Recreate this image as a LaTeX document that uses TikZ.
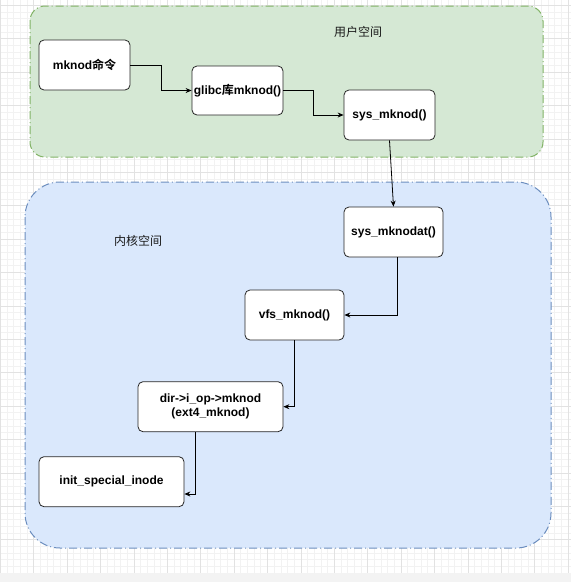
\documentclass[tikz,border=0pt]{standalone}
\usepackage{fontspec}
\setmainfont{Liberation Sans}
\newfontfamily\cjk{Noto Sans CJK SC}[BoldFont={Noto Sans CJK SC Bold}]
\usetikzlibrary{arrows.meta,calc}
\definecolor{gfill}{HTML}{D5E8D4}
\definecolor{gline}{HTML}{82B366}
\definecolor{bfill}{HTML}{DAE8FC}
\definecolor{bline}{HTML}{6C8EBF}
\definecolor{gridminor}{HTML}{F2F2F2}
\definecolor{gridmajor}{HTML}{E2E2E2}
\definecolor{strip}{HTML}{F3F3F3}
\begin{document}
\begin{tikzpicture}[x=1pt,y=-1pt,
  box/.style={draw=black!85, fill=white, rounded corners=5pt, line width=0.8pt,
    align=center, font=\bfseries\fontsize{12}{14}\selectfont, inner sep=0pt},
  arr/.style={-{Stealth[length=6pt,width=5pt]}, line width=0.8pt},
  region/.style={line width=1pt, dash pattern=on 8pt off 3pt on 1pt off 3pt},
  title/.style={font=\cjk\fontsize{12}{14}\selectfont, text=black!90}]
\useasboundingbox (0,0) rectangle (571,582);
\fill[white] (0,0) rectangle (571,582);
% canvas grid
\foreach \i in {0,...,86} {
  \draw[gridminor, line width=0.5pt] ({568-6.68*\i},0) -- ({568-6.68*\i},573);
  \draw[gridminor, line width=0.5pt] (0,{573-6.68*\i}) -- (571,{573-6.68*\i});
}
\foreach \i in {0,...,17} {
  \draw[gridmajor, line width=0.6pt] ({568-33.4*\i},0) -- ({568-33.4*\i},573);
  \draw[gridmajor, line width=0.6pt] (0,{573-33.4*\i}) -- (571,{573-33.4*\i});
}
\fill[strip] (0,573) rectangle (571,582);
% regions
\draw[region, fill=gfill, draw=gline, rounded corners=15pt] (30,6) rectangle (543,157);
\draw[region, fill=bfill, draw=bline, rounded corners=35pt] (25,182) rectangle (551,548);
\node[title] (user) at (358,32) {用户空间};
\node[title] (kernel) at (138,241) {内核空间};
% nodes
\node[box, minimum width=91pt, minimum height=50pt] (mknod) at (84.5,65) {mknod{\cjk 命令}};
\node[box, minimum width=91pt, minimum height=49pt] (glibc) at (237.5,90.5) {glibc{\cjk 库}mknod()};
\node[box, minimum width=91pt, minimum height=50pt] (sysm) at (389.5,115) {sys\_mknod()};
\node[box, minimum width=99pt, minimum height=50pt] (sysmat) at (393.5,232) {sys\_mknodat()};
\node[box, minimum width=99pt, minimum height=50pt] (vfs) at (294.5,315) {vfs\_mknod()};
\node[box, minimum width=145pt, minimum height=50pt] (dir) at (210.5,406.7) {dir->i\_op->mknod\\(ext4\_mknod)};
\node[box, minimum width=145pt, minimum height=50pt] (init) at (111.5,481.7) {init\_special\_inode};
% connectors
\draw[arr] (mknod.east) -- ++(31,0) |- (glibc.west);
\draw[arr] (glibc.east) -- ++(30,0) |- (sysm.west);
\draw[arr] (sysm.south) -- (sysmat.north);
\draw[arr] ($(sysmat.south)+(4,0)$) |- (vfs.east);
\draw[arr] (vfs.south) |- (dir.east);
\draw[arr] ($(dir.south)+(-15,0)$) |- ($(init.east)+(0,12.3)$);
\end{tikzpicture}
\end{document}
